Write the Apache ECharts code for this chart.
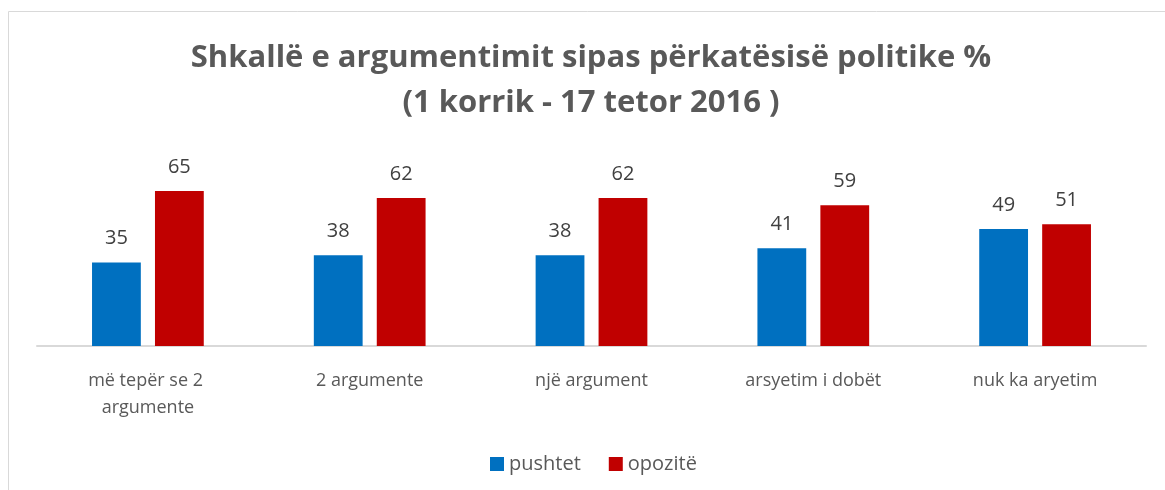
<!DOCTYPE html>
<html>
<head>
<meta charset="utf-8">
<script src="https://cdn.jsdelivr.net/npm/echarts@6/dist/echarts.min.js"></script>
<style>
  html, body { margin: 0; padding: 0; background: #fff; }
  #chart { width: 1165px; height: 490px; }
</style>
</head>
<body>
<div id="chart"></div>
<script>
// kategoritë dhe vlerat (%)
const categories = ['më tepër se 2 argumente', '2 argumente', 'një argument', 'arsyetim i dobët', 'nuk ka aryetim'];
const pushtet = [35, 38, 38, 41, 49];
const opozite = [65, 62, 62, 59, 51];

const FONT = '"Open Sans", "Noto Sans", sans-serif';

const chart = echarts.init(document.getElementById('chart'));
chart.setOption({
  animation: false,
  textStyle: { fontFamily: FONT },
  graphic: [
    {
      type: 'rect',
      shape: { x: 8.5, y: 11.5, width: 1200, height: 600 },
      style: { fill: 'none', stroke: '#d9d9d9', lineWidth: 1 },
      silent: true
    },
    {
      type: 'text',
      x: 591,
      y: 36,
      style: {
        text: 'Shkallë e argumentimit sipas përkatësisë politike %\n(1 korrik - 17 tetor 2016 )',
        fill: '#595959',
        font: 'bold 31px ' + FONT,
        lineHeight: 45,
        align: 'center',
        verticalAlign: 'top'
      }
    }
  ],
  legend: {
    data: ['pushtet', 'opozitë'],
    left: 485,
    top: 449,
    icon: 'rect',
    itemWidth: 14,
    itemHeight: 14,
    itemGap: 28,
    textStyle: { color: '#595959', fontSize: 20, fontFamily: FONT }
  },
  grid: { left: 37, right: 19, top: 179, bottom: 144 },
  xAxis: {
    type: 'category',
    data: categories,
    axisLine: { lineStyle: { color: '#d9d9d9', width: 2 } },
    axisTick: { show: false },
    axisLabel: {
      interval: 0,
      color: '#595959',
      fontSize: 18,
      lineHeight: 27,
      margin: 21,
      width: 160,
      overflow: 'break'
    }
  },
  yAxis: {
    type: 'value',
    min: 0,
    max: 70,
    show: false
  },
  series: [
    {
      name: 'pushtet',
      type: 'bar',
      data: pushtet,
      barWidth: '22%',
      barGap: '29%',
      itemStyle: { color: '#0070c0' },
      label: { show: true, position: 'top', distance: 14, color: '#404040', fontSize: 20 }
    },
    {
      name: 'opozitë',
      type: 'bar',
      data: opozite,
      barWidth: '22%',
      itemStyle: { color: '#c00000' },
      label: { show: true, position: 'top', distance: 14, color: '#404040', fontSize: 20 }
    }
  ]
});
</script>
</body>
</html>
